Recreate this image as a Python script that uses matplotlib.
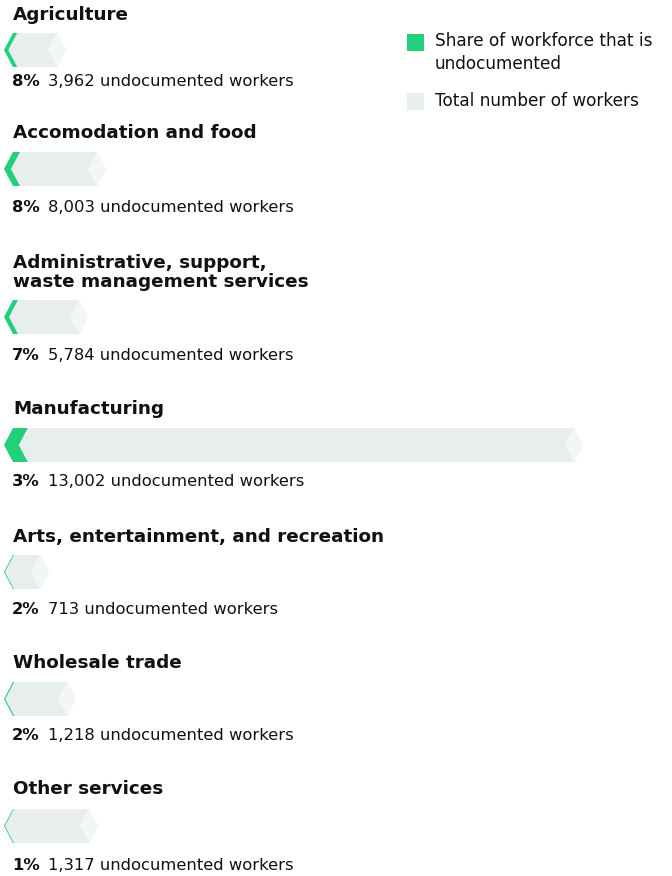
import matplotlib
matplotlib.use("Agg")
import matplotlib.pyplot as plt
from matplotlib.patches import Polygon, Rectangle
import matplotlib.transforms as mtransforms

plt.rcParams['font.family'] = ['DejaVu Sans']

# industries, share undocumented, undocumented count, total workforce
industries = ["Agriculture",
              "Accomodation and food",
              "Administrative, support,\nwaste management services",
              "Manufacturing",
              "Arts, entertainment, and recreation",
              "Wholesale trade",
              "Other services"]
share_pct = [8, 8, 7, 3, 2, 2, 1]
undocumented = [3962, 8003, 5784, 13002, 713, 1218, 1317]
total_workers = [46400, 76300, 62900, 433400, 33700, 53900, 70400]

GREEN = "#22d07c"
BAR = "#e8eded"
TIP = "#f3f6f6"
INK = "#111111"

W, H = 672, 876
fig = plt.figure(figsize=(W / 100, H / 100), dpi=100)
ax = fig.add_axes([0, 0, 1, 1])

# horizontal scale: workers per pixel, bars start at pixel 4
wpp = 748.5
x0_px = 4
ax.set_xlim(-x0_px * wpp, (W - x0_px) * wpp)
ax.set_ylim(H, 0)
ax.axis("off")

# row layout in pixels (title centre, bar centre, label centre)
title_y = [15, 133, 272.5, 409, 537, 663, 789]
bar_y = [50, 169, 317, 445, 572, 699, 826]
label_y = [82, 207, 355, 482, 609, 736, 866]
half_h = 17
d = 9 * wpp  # chevron depth

left_tf = mtransforms.blended_transform_factory(fig.transFigure, ax.transData)

for i, name in enumerate(industries):
    c = bar_y[i]
    top, bot = c - half_h, c + half_h
    L = total_workers[i]

    # total workforce: hexagonal chevron
    ax.add_patch(Polygon([(0, c), (d, top), (L - d, top), (L, c),
                          (L - d, bot), (d, bot)],
                         closed=True, fc=BAR, ec="none"))
    # lighter diamond at the tip
    ax.add_patch(Polygon([(L - 2 * d, c), (L - d, top), (L, c), (L - d, bot)],
                         closed=True, fc=TIP, ec="none"))
    # undocumented share: green chevron on the left edge
    w = max(L * share_pct[i] / 100 * 0.85, 0.9 * wpp)
    ax.add_patch(Polygon([(0, c), (d, top), (d + w, top), (w, c),
                          (d + w, bot), (d, bot)],
                         closed=True, fc=GREEN, ec="none"))

    ax.text(13 / W, title_y[i], name, transform=left_tf, ha="left",
            va="center", fontsize=13.2, fontweight="bold", color=INK,
            linespacing=1.12)

    pct = ax.text(12 / W, label_y[i], f"{share_pct[i]}%", transform=left_tf,
                  ha="left", va="center", fontsize=11.8, fontweight="bold",
                  color=INK)
    ax.annotate(f"{undocumented[i]:,} undocumented workers", xy=(1, 0.5),
                xycoords=pct, xytext=(6, 0), textcoords="offset points",
                ha="left", va="center", fontsize=11.8, color=INK)

# legend
fig_tf = fig.transFigure
ax.add_patch(Rectangle((407 / W, 1 - 51 / H), 17 / W, 17 / H,
                       transform=fig_tf, fc=GREEN, ec="none"))
ax.add_patch(Rectangle((407 / W, 1 - 110 / H), 17 / W, 17 / H,
                       transform=fig_tf, fc=BAR, ec="none"))
fig.text(435 / W, 1 - 52.5 / H, "Share of workforce that is\nundocumented",
         ha="left", va="center", fontsize=12.2, color=INK, linespacing=1.3)
fig.text(435 / W, 1 - 101 / H, "Total number of workers",
         ha="left", va="center", fontsize=12.2, color=INK)

fig.savefig("out.png", dpi=100, facecolor="white")
